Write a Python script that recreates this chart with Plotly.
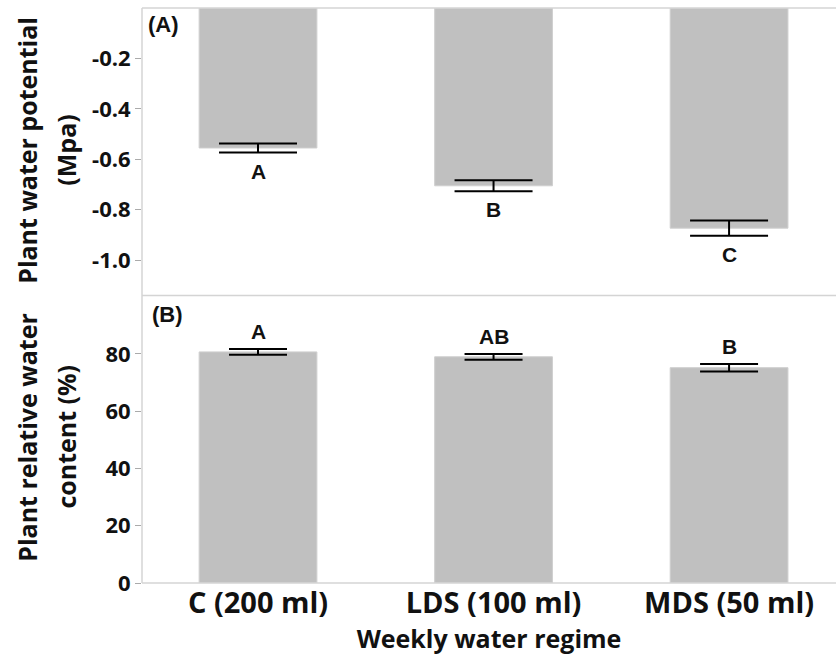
import plotly.graph_objects as go

# Treatments (weekly water regime)
categories = ["C (200 ml)", "LDS (100 ml)", "MDS (50 ml)"]

# Panel A: plant water potential (MPa), mean and standard error
wp_mean = [-0.555, -0.705, -0.873]
wp_err = [0.018, 0.022, 0.030]
wp_letters = ["A", "B", "C"]

# Panel B: plant relative water content (%), mean and standard error
rwc_mean = [80.7, 79.0, 75.2]
rwc_err = [1.0, 1.0, 1.3]
rwc_letters = ["A", "AB", "B"]

wp_ticks = [-0.2, -0.4, -0.6, -0.8, -1.0]
rwc_ticks = [0, 20, 40, 60, 80]

BAR = "#c0c0c0"
FRAME = "#d4d4d4"
TXT = "#111111"
TICK_FONT = dict(family="Open Sans", size=22, color=TXT)
LETTER_FONT = dict(family="Liberation Sans", size=21, color=TXT)

fig = go.Figure()

fig.add_trace(go.Bar(
    x=categories, y=wp_mean, width=0.5,
    marker=dict(color=BAR, line=dict(color="#cfcfcf", width=1)),
    error_y=dict(type="data", array=wp_err, visible=True,
                 color="black", thickness=2, width=39),
    xaxis="x2", yaxis="y2", showlegend=False,
))

fig.add_trace(go.Bar(
    x=categories, y=rwc_mean, width=0.5,
    marker=dict(color=BAR, line=dict(color="#cfcfcf", width=1)),
    error_y=dict(type="data", array=rwc_err, visible=True,
                 color="black", thickness=2, width=29),
    xaxis="x", yaxis="y", showlegend=False,
))

annotations = []
# significance letters below the water-potential bars
for c, m, e, t in zip(categories, wp_mean, wp_err, wp_letters):
    annotations.append(dict(x=c, y=m - e, xref="x2", yref="y2", text=f"<b>{t}</b>",
                            showarrow=False, yanchor="top", yshift=-5,
                            font=LETTER_FONT))
# significance letters above the water-content bars
for c, m, e, t in zip(categories, rwc_mean, rwc_err, rwc_letters):
    annotations.append(dict(x=c, y=m + e, xref="x", yref="y", text=f"<b>{t}</b>",
                            showarrow=False, yanchor="bottom", yshift=4,
                            font=LETTER_FONT))

# panel tags
annotations.append(dict(x=0.006, y=0.996, xref="paper", yref="paper", text="<b>(A)</b>",
                        showarrow=False, xanchor="left", yanchor="top",
                        font=dict(family="Liberation Sans", size=22, color=TXT)))
annotations.append(dict(x=0.012, y=0.493, xref="paper", yref="paper", text="<b>(B)</b>",
                        showarrow=False, xanchor="left", yanchor="top",
                        font=dict(family="Liberation Sans", size=22, color=TXT)))

# y-axis titles, two rotated lines each
title_font = dict(family="Open Sans", size=25, color=TXT)
for txt, xp, yp in [("<b>Plant water potential</b>", -0.166, 0.753),
                    ("<b>(Mpa)</b>", -0.110, 0.753),
                    ("<b>Plant relative water</b>", -0.166, 0.254),
                    ("<b>content (%)</b>", -0.110, 0.254)]:
    annotations.append(dict(x=xp, y=yp, xref="paper", yref="paper", text=txt,
                            showarrow=False, textangle=-90, xanchor="center",
                            yanchor="middle", font=title_font))

# light frame: left edge, top, panel divider and bottom
frame = dict(type="line", xref="paper", yref="paper", layer="above",
             line=dict(color=FRAME, width=1.5))
shapes = [
    dict(frame, x0=0, x1=0, y0=0, y1=1),
    dict(frame, x0=0, x1=1, y0=1, y1=1),
    dict(frame, x0=0, x1=1, y0=0.5, y1=0.5),
    dict(frame, x0=0, x1=1, y0=0, y1=0),
]

axis_common = dict(showgrid=False, zeroline=False, showline=False)

fig.update_layout(
    width=836, height=662,
    margin=dict(l=142, r=0, t=8, b=79),
    paper_bgcolor="white", plot_bgcolor="white",
    xaxis=dict(domain=[0, 1], anchor="y", range=[-0.4926, 2.454], ticks="",
               tickvals=categories, ticktext=[f"<b>{c}</b>" for c in categories],
               tickfont=dict(family="Open Sans", size=29, color=TXT),
               title=dict(text="<b>Weekly water regime</b>", standoff=6,
                          font=dict(family="Open Sans", size=25, color=TXT)),
               **axis_common),
    xaxis2=dict(domain=[0, 1], anchor="y2", matches="x", range=[-0.4926, 2.454],
                showticklabels=False, ticks="", **axis_common),
    yaxis=dict(domain=[0, 0.5], anchor="x", range=[0, 100.4],
               tickvals=rwc_ticks, ticktext=[f"<b>{v}</b>" for v in rwc_ticks],
               ticks="outside", ticklen=6, tickcolor="#aaaaaa",
               tickfont=TICK_FONT, **axis_common),
    yaxis2=dict(domain=[0.5, 1], anchor="x2", range=[-1.14, 0],
                tickvals=wp_ticks, ticktext=[f"<b>{v:.1f}</b>" for v in wp_ticks],
                ticks="outside", ticklen=6, tickcolor="#aaaaaa",
                tickfont=TICK_FONT, **axis_common),
    annotations=annotations,
    shapes=shapes,
)

fig.write_html("out.html")
